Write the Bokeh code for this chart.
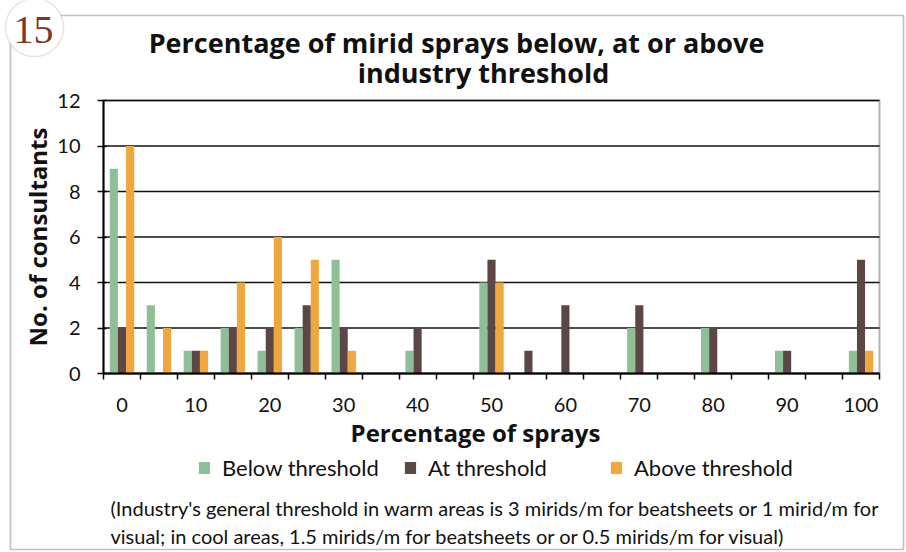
import numpy as np
from bokeh.plotting import figure
from bokeh.models import (FixedTicker, Label, BoxAnnotation, PolyAnnotation, Legend,
                          LegendItem, ColumnDataSource, Range1d)
from bokeh.transform import dodge
from bokeh.embed import file_html
from bokeh.resources import INLINE

# ---------------- data ----------------
pct = list(range(0, 101, 5))
below = [9, 3, 1, 2, 1, 2, 5, 0, 1, 0, 4, 0, 0, 0, 2, 0, 2, 0, 1, 0, 1]
at    = [2, 0, 1, 2, 2, 3, 2, 0, 2, 0, 5, 1, 3, 0, 3, 0, 2, 0, 1, 0, 5]
above = [10, 2, 1, 4, 6, 5, 1, 0, 0, 0, 4, 0, 0, 0, 0, 0, 0, 0, 0, 0, 1]
x_ticks = [0, 10, 20, 30, 40, 50, 60, 70, 80, 90, 100]
y_ticks = [0, 2, 4, 6, 8, 10, 12]
series_names = ["Below threshold", "At threshold", "Above threshold"]
colors = ["#8fbf97", "#5c4646", "#f0a83e"]
title_lines = ["Percentage of mirid sprays below, at or above", "industry threshold"]
x_title = "Percentage of sprays"
y_title = "No. of consultants"
note_lines = ["(Industry's general threshold in warm areas is 3 mirids/m for beatsheets or 1 mirid/m for",
              "visual; in cool areas, 1.5 mirids/m for beatsheets or or 0.5 mirids/m for visual)"]
badge_text = "15"

# ---------------- layout (pixels) ----------------
W, H = 906, 552
PL, PR, PT, PB = 103, 879, 100, 373          # inner plot box on the canvas
x_lo, x_hi = pct[0] - 2.5, pct[-1] + 2.5
y_lo, y_hi = y_ticks[0], y_ticks[-1]
kx = (PR - PL) / (x_hi - x_lo)
ky = (PB - PT) / (y_hi - y_lo)
x_range = Range1d(x_lo - PL / kx, x_hi + (W - PR) / kx)
y_range = Range1d(y_lo - (H - PB) / ky, y_hi + PT / ky)

p = figure(width=W, height=H, output_backend="svg", toolbar_location=None,
           x_range=x_range, y_range=y_range,
           min_border_left=0, min_border_right=0, min_border_top=0, min_border_bottom=0)
p.background_fill_color = "white"
p.border_fill_color = "white"
p.outline_line_color = None
p.xgrid.visible = False
p.ygrid.visible = False

# horizontal grid lines at the y ticks
p.segment(x0=[x_lo] * len(y_ticks), x1=[x_hi] * len(y_ticks), y0=y_ticks, y1=y_ticks,
          line_color="#111111", line_width=1.7)

src = ColumnDataSource(dict(pct=pct, below=below, at=at, above=above))
bw = 1.1
renderers = []
for off, col, c in zip([-bw, 0, bw], ["below", "at", "above"], colors):
    r = p.vbar(x=dodge("pct", off, range=p.x_range), top=col, width=bw, bottom=0,
               source=src, fill_color=c, line_color=None)
    renderers.append(r)

# plot box
p.add_layout(BoxAnnotation(left=x_lo, right=x_hi, bottom=y_lo, top=y_hi, fill_alpha=0,
                           line_color="black", line_width=2))

# axes drawn at the plot box edges
xa = p.xaxis[0]
xa.fixed_location = y_lo
xa.bounds = (x_lo, x_hi)
xa.ticker = FixedTicker(ticks=x_ticks, minor_ticks=[v - 2.5 for v in pct] + [x_hi])
xa.major_tick_in = 0
xa.major_tick_out = 0
xa.minor_tick_in = 0
xa.minor_tick_out = 6
xa.minor_tick_line_color = "black"
xa.minor_tick_line_width = 1.5
xa.major_label_standoff = 18

ya = p.yaxis[0]
ya.fixed_location = x_lo
ya.bounds = (y_lo, y_hi)
ya.ticker = FixedTicker(ticks=y_ticks)
ya.major_tick_in = 3
ya.major_tick_out = 6
ya.minor_tick_line_color = None
ya.major_label_standoff = 17
ya.axis_label = y_title
ya.axis_label_standoff = 0
for ax in (xa, ya):
    ax.axis_line_color = "black"
    ax.axis_line_width = 2
    ax.major_tick_line_color = "black"
    ax.major_tick_line_width = 1.5
    ax.major_label_text_font = "Lato"
    ax.major_label_text_font_size = "20px"
    ax.major_label_text_color = "#111111"
    ax.axis_label_text_font = "Open Sans"
    ax.axis_label_text_font_size = "24px"
    ax.axis_label_text_font_style = "bold"
    ax.axis_label_text_color = "#111111"

# legend (screen units from the canvas bottom-left)
legend = Legend(items=[LegendItem(label=n, renderers=[r]) for n, r in zip(series_names, renderers)],
                orientation="horizontal", location=(197, H - 481), padding=0, margin=0,
                spacing=13, label_width=168, glyph_width=14, glyph_height=15,
                label_standoff=11, border_line_color=None, background_fill_alpha=0,
                label_text_font="Lato", label_text_font_size="22px",
                label_text_color="#111111")
p.add_layout(legend, "center")

def sy(y):
    return H - y

def add_text(x, y, text, size, bold=False, font="Lato", align="center", color="#111111"):
    p.add_layout(Label(x=x, y=sy(y), x_units="screen", y_units="screen", text=text,
                       text_font=font, text_font_size=size,
                       text_font_style="bold" if bold else "normal",
                       text_color=color, text_align=align, text_baseline="middle"))

add_text(456, 42, title_lines[0], "27px", True, "Open Sans")
add_text(483, 72, title_lines[1], "27px", True, "Open Sans")
add_text(475, 432, x_title, "24px", True, "Open Sans")
add_text(110, 507, note_lines[0], "20px", align="left")
add_text(110, 535, note_lines[1], "20px", align="left")

# outer frame and figure badge
p.add_layout(BoxAnnotation(left=10, right=903, top=sy(15), bottom=sy(549),
                           left_units="screen", right_units="screen",
                           top_units="screen", bottom_units="screen",
                           fill_alpha=0, line_color="#333333", line_width=1.7))
th = np.linspace(0, 2 * np.pi, 97)
cx, cy, rad = 34, 27, 29
p.add_layout(PolyAnnotation(xs=list(cx + rad * np.cos(th)), ys=list(sy(cy + rad * np.sin(th))),
                            xs_units="screen", ys_units="screen",
                            fill_color="white", fill_alpha=1,
                            line_color="#aca77e", line_width=1.5))
add_text(33, 29, badge_text, "40px", font="Liberation Serif", color="#7b3a28")

open("out.html", "w").write(file_html(p, INLINE))
